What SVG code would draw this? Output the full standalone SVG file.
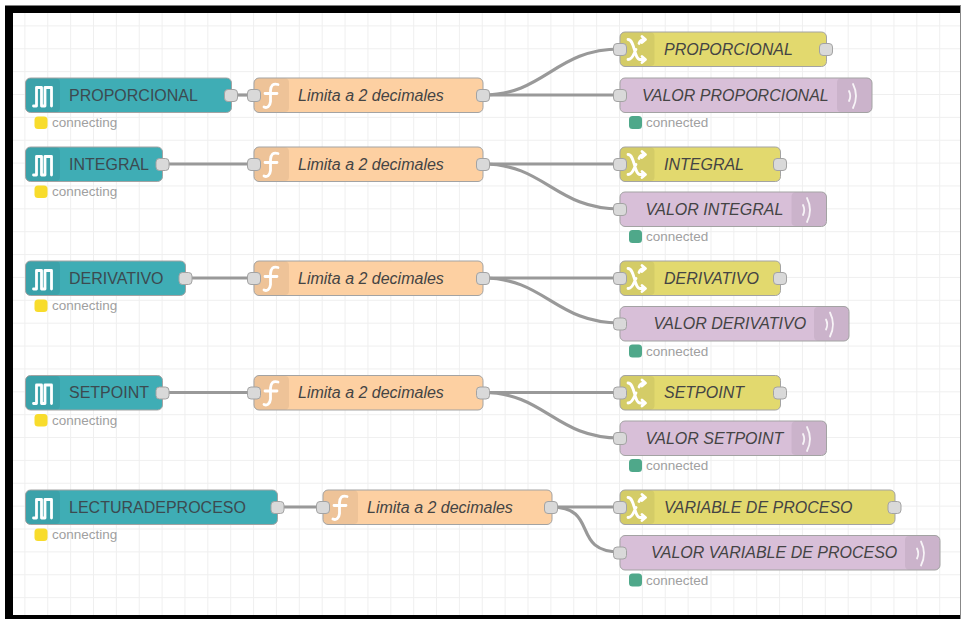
<svg xmlns="http://www.w3.org/2000/svg" xmlns:xlink="http://www.w3.org/1999/xlink" width="961" height="619" viewBox="0 0 961 619">
<style>
text{font-family:"Liberation Sans",Arial,sans-serif;font-size:16px;fill:#3c4a50;dominant-baseline:central}
.i{font-style:italic;fill:#444}
.s{font-size:13.5px;fill:#a0a0a0}
.n{stroke:#a3a3a3;stroke-width:1}
.teal{fill:#3fadb5}.fn{fill:#fdd0a2}.ch{fill:#e2d96e}.mq{fill:#d8bfd8}
.ic{fill:#000;fill-opacity:.06}
.g{fill:none;stroke:#fff;stroke-width:2.800;stroke-linejoin:round;stroke-linecap:round}
.port{fill:#d9d9d9;stroke:#a3a3a3;stroke-width:1}
.w{fill:none;stroke:#999;stroke-width:3.200}
.y{fill:#f8dc2c}.c{fill:#4fa88a}
</style>
<defs>
<pattern id="grid" x="2.500" y="3.500" width="22.870" height="22.870" patternUnits="userSpaceOnUse">
<path d="M22.870 0V22.870M0 22.870H22.870" fill="none" stroke="#efefef" stroke-width="2"/>
</pattern>
<rect id="port" class="port" x="-6.500" y="-6" width="13" height="12" rx="3.500"/>
<g id="ping"><path class="g" stroke-width="2.400" d="M-9 10H-6V-8.500H-1V10H2.500V-8.500H9V10"/></g>
<g id="func"><path class="g" d="M6-11C1-12.500-1-10-1.500-5V6C-2 11-5 13-8 11.500M-7-2H5"/></g>
<g id="shuf"><path class="g" d="M-9-10C-2-10-3 10 3 10H8M-9 10C-4 10-3 3-1 0M2-6C3-9 4-10 8-10M5-13 8.500-10 5-7M5 7 8.500 10 5 13"/></g>
<g id="wave"><path class="g" style="stroke-width:1.800;stroke-opacity:.85" d="M-4-5Q-1.500 0-4 5M0-12Q6 0 0 12"/></g>
</defs>
<rect width="961" height="619" fill="#fff"/>
<rect x="13" y="13" width="948" height="602" fill="url(#grid)"/>
<path d="M5 619V5.500H961V13H13V615H961V619Z" fill="#000"/>
<rect x="960" y="5" width="1" height="614" fill="#888"/>

<g id="connectors">
<path class="w" d="M231 95H254"/>
<path class="w" d="M483 95C545 95 555 49 620 49"/><path class="w" d="M483 95H620"/>
<path class="w" d="M162 164H254"/>
<path class="w" d="M483 164H620"/><path class="w" d="M483 164C545 164 555 209 620 209"/>
<path class="w" d="M185 278H254"/>
<path class="w" d="M483 278H620"/><path class="w" d="M483 278C545 278 555 323 620 323"/>
<path class="w" d="M162 392.500H254"/>
<path class="w" d="M483 392.500H620"/><path class="w" d="M483 392.500C545 392.500 555 438 620 438"/>
<path class="w" d="M277 507H323"/>
<path class="w" d="M551 507H620"/><path class="w" d="M551 507C600 507 570 552 620 552"/>
</g>

<g id="n1"><rect class="n teal" x="25.500" y="78" width="206" height="34.500" rx="5"/><rect class="ic" x="26" y="78.500" width="34" height="33.500" rx="4"/><use xlink:href="#ping" x="42.500" y="96"/><text x="69" y="95">PROPORCIONAL</text><use xlink:href="#port" x="231" y="95.500"/><rect class="y" x="34.500" y="116.500" width="13" height="12.500" rx="3.500"/><text class="s" x="52" y="122.500">connecting</text></g>
<g id="n2"><rect class="n teal" x="25.500" y="147" width="137" height="34.500" rx="5"/><rect class="ic" x="26" y="147.500" width="34" height="33.500" rx="4"/><use xlink:href="#ping" x="42.500" y="165"/><text x="69" y="164">INTEGRAL</text><use xlink:href="#port" x="162.500" y="164.500"/><rect class="y" x="34.500" y="185.500" width="13" height="12.500" rx="3.500"/><text class="s" x="52" y="191.500">connecting</text></g>
<g id="n3"><rect class="n teal" x="25.500" y="261" width="160" height="34.500" rx="5"/><rect class="ic" x="26" y="261.500" width="34" height="33.500" rx="4"/><use xlink:href="#ping" x="42.500" y="279"/><text x="69" y="278">DERIVATIVO</text><use xlink:href="#port" x="185.500" y="278.500"/><rect class="y" x="34.500" y="299.500" width="13" height="12.500" rx="3.500"/><text class="s" x="52" y="305.500">connecting</text></g>
<g id="n4"><rect class="n teal" x="25.500" y="375.500" width="137" height="34.500" rx="5"/><rect class="ic" x="26" y="376" width="34" height="33.500" rx="4"/><use xlink:href="#ping" x="42.500" y="393.500"/><text x="69" y="392.500">SETPOINT</text><use xlink:href="#port" x="162.500" y="393"/><rect class="y" x="34.500" y="414" width="13" height="12.500" rx="3.500"/><text class="s" x="52" y="420">connecting</text></g>
<g id="n5"><rect class="n teal" x="25.500" y="490" width="252" height="34.500" rx="5"/><rect class="ic" x="26" y="490.500" width="34" height="33.500" rx="4"/><use xlink:href="#ping" x="42.500" y="508"/><text x="69" y="507">LECTURADEPROCESO</text><use xlink:href="#port" x="277.500" y="507.500"/><rect class="y" x="34.500" y="528.500" width="13" height="12.500" rx="3.500"/><text class="s" x="52" y="534.500">connecting</text></g>

<g id="f1"><rect class="n fn" x="254" y="78" width="229" height="34.500" rx="5"/><rect class="ic" x="254.500" y="78.500" width="34.500" height="33.500" rx="4"/><use xlink:href="#func" x="272" y="95.500"/><text class="i" x="298" y="95">Limita a 2 decimales</text><use xlink:href="#port" x="254" y="95.500"/><use xlink:href="#port" x="483" y="95.500"/></g>
<g id="f2"><rect class="n fn" x="254" y="147" width="229" height="34.500" rx="5"/><rect class="ic" x="254.500" y="147.500" width="34.500" height="33.500" rx="4"/><use xlink:href="#func" x="272" y="164.500"/><text class="i" x="298" y="164">Limita a 2 decimales</text><use xlink:href="#port" x="254" y="164.500"/><use xlink:href="#port" x="483" y="164.500"/></g>
<g id="f3"><rect class="n fn" x="254" y="261" width="229" height="34.500" rx="5"/><rect class="ic" x="254.500" y="261.500" width="34.500" height="33.500" rx="4"/><use xlink:href="#func" x="272" y="278.500"/><text class="i" x="298" y="278">Limita a 2 decimales</text><use xlink:href="#port" x="254" y="278.500"/><use xlink:href="#port" x="483" y="278.500"/></g>
<g id="f4"><rect class="n fn" x="254" y="375.500" width="229" height="34.500" rx="5"/><rect class="ic" x="254.500" y="376" width="34.500" height="33.500" rx="4"/><use xlink:href="#func" x="272" y="393"/><text class="i" x="298" y="392.500">Limita a 2 decimales</text><use xlink:href="#port" x="254" y="393"/><use xlink:href="#port" x="483" y="393"/></g>
<g id="f5"><rect class="n fn" x="323" y="490" width="229" height="34.500" rx="5"/><rect class="ic" x="323.500" y="490.500" width="34.500" height="33.500" rx="4"/><use xlink:href="#func" x="341" y="507.500"/><text class="i" x="367" y="507">Limita a 2 decimales</text><use xlink:href="#port" x="323" y="507.500"/><use xlink:href="#port" x="551" y="507.500"/></g>

<g id="c1"><rect class="n ch" x="620" y="32" width="206.500" height="34.500" rx="5"/><rect class="ic" x="620.500" y="32.500" width="34" height="33.500" rx="4"/><use xlink:href="#shuf" x="637" y="49.500"/><text class="i" x="664" y="49">PROPORCIONAL</text><use xlink:href="#port" x="620" y="49.500"/><use xlink:href="#port" x="826" y="49.500"/></g>
<g id="c2"><rect class="n ch" x="620" y="147" width="160.500" height="34.500" rx="5"/><rect class="ic" x="620.500" y="147.500" width="34" height="33.500" rx="4"/><use xlink:href="#shuf" x="637" y="164.500"/><text class="i" x="664" y="164">INTEGRAL</text><use xlink:href="#port" x="620" y="164.500"/><use xlink:href="#port" x="780" y="164.500"/></g>
<g id="c3"><rect class="n ch" x="620" y="261" width="160.500" height="34.500" rx="5"/><rect class="ic" x="620.500" y="261.500" width="34" height="33.500" rx="4"/><use xlink:href="#shuf" x="637" y="278.500"/><text class="i" x="664" y="278">DERIVATIVO</text><use xlink:href="#port" x="620" y="278.500"/><use xlink:href="#port" x="780" y="278.500"/></g>
<g id="c4"><rect class="n ch" x="620" y="375.500" width="160.500" height="34.500" rx="5"/><rect class="ic" x="620.500" y="376" width="34" height="33.500" rx="4"/><use xlink:href="#shuf" x="637" y="393"/><text class="i" x="664" y="392.500">SETPOINT</text><use xlink:href="#port" x="620" y="393"/><use xlink:href="#port" x="780" y="393"/></g>
<g id="c5"><rect class="n ch" x="620" y="490" width="275" height="34.500" rx="5"/><rect class="ic" x="620.500" y="490.500" width="34" height="33.500" rx="4"/><use xlink:href="#shuf" x="637" y="507.500"/><text class="i" x="664" y="507">VARIABLE DE PROCESO</text><use xlink:href="#port" x="620" y="507.500"/><use xlink:href="#port" x="894.500" y="507.500"/></g>

<g id="m1"><rect class="n mq" x="620" y="78" width="252" height="34.500" rx="5"/><rect class="ic" x="837" y="78.500" width="34.500" height="33.500" rx="4"/><use xlink:href="#wave" x="853" y="96"/><text class="i" x="642" y="95">VALOR PROPORCIONAL</text><use xlink:href="#port" x="620" y="95.500"/><rect class="c" x="629" y="116" width="13" height="13" rx="3.500"/><text class="s" x="646" y="122.500">connected</text></g>
<g id="m2"><rect class="n mq" x="620" y="192" width="206.500" height="34.500" rx="5"/><rect class="ic" x="791.500" y="192.500" width="34.500" height="33.500" rx="4"/><use xlink:href="#wave" x="807" y="210"/><text class="i" x="645.500" y="209">VALOR INTEGRAL</text><use xlink:href="#port" x="620" y="209.500"/><rect class="c" x="629" y="230" width="13" height="13" rx="3.500"/><text class="s" x="646" y="236.500">connected</text></g>
<g id="m3"><rect class="n mq" x="620" y="306.500" width="229" height="34.500" rx="5"/><rect class="ic" x="814" y="307" width="34.500" height="33.500" rx="4"/><use xlink:href="#wave" x="830" y="324.500"/><text class="i" x="653.500" y="323.500">VALOR DERIVATIVO</text><use xlink:href="#port" x="620" y="324"/><rect class="c" x="629" y="344.500" width="13" height="13" rx="3.500"/><text class="s" x="646" y="351">connected</text></g>
<g id="m4"><rect class="n mq" x="620" y="421" width="206.500" height="34.500" rx="5"/><rect class="ic" x="791.500" y="421.500" width="34.500" height="33.500" rx="4"/><use xlink:href="#wave" x="807" y="439"/><text class="i" x="645.500" y="438">VALOR SETPOINT</text><use xlink:href="#port" x="620" y="438.500"/><rect class="c" x="629" y="459" width="13" height="13" rx="3.500"/><text class="s" x="646" y="465.500">connected</text></g>
<g id="m5"><rect class="n mq" x="620" y="535.500" width="320" height="34.500" rx="5"/><rect class="ic" x="905" y="536" width="34.500" height="33.500" rx="4"/><use xlink:href="#wave" x="921" y="553.500"/><text class="i" x="651" y="552.500">VALOR VARIABLE DE PROCESO</text><use xlink:href="#port" x="620" y="553"/><rect class="c" x="629" y="573.500" width="13" height="13" rx="3.500"/><text class="s" x="646" y="580">connected</text></g>
</svg>
